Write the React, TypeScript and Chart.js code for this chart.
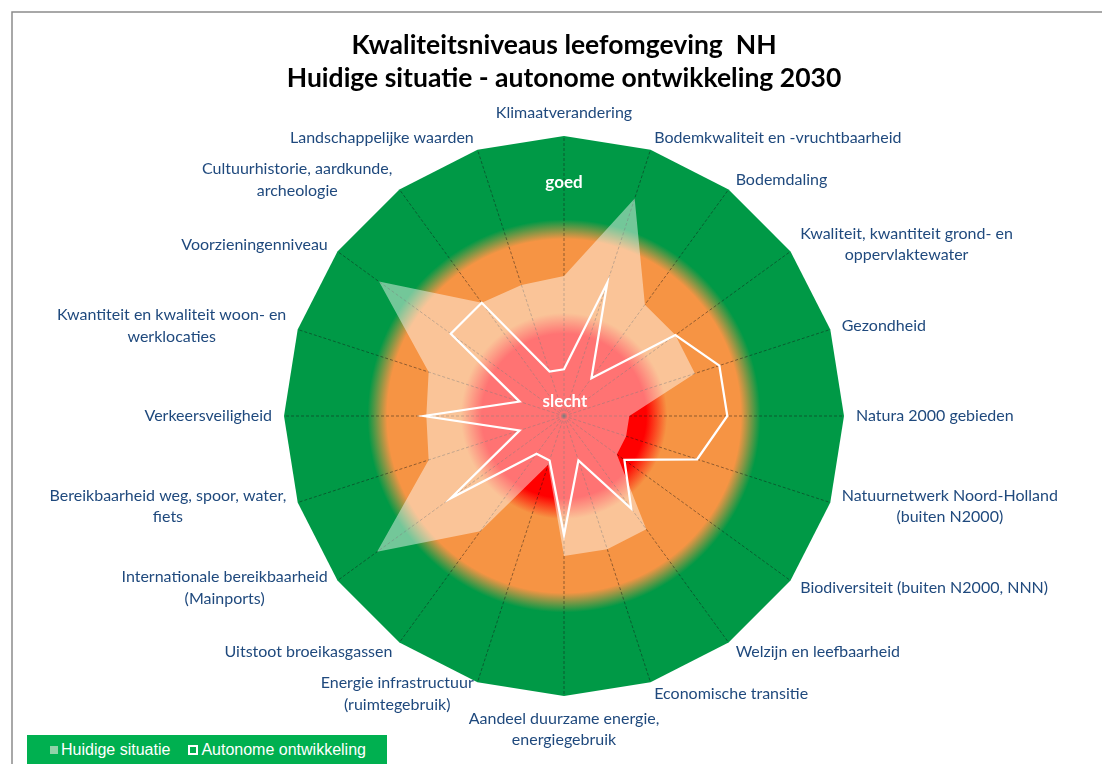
import React, { useEffect, useRef } from "react";
import { Chart, registerables } from "chart.js";

Chart.register(...registerables);

// ---------- data ----------
const categories: string[][] = [
  ["Klimaatverandering"],
  ["Bodemkwaliteit en -vruchtbaarheid"],
  ["Bodemdaling"],
  ["Kwaliteit, kwantiteit grond- en", "oppervlaktewater"],
  ["Gezondheid"],
  ["Natura 2000 gebieden"],
  ["Natuurnetwerk Noord-Holland", "(buiten N2000)"],
  ["Biodiversiteit (buiten N2000, NNN)"],
  ["Welzijn en leefbaarheid"],
  ["Economische transitie"],
  ["Aandeel duurzame energie,", "energiegebruik"],
  ["Energie infrastructuur", "(ruimtegebruik)"],
  ["Uitstoot broeikasgassen"],
  ["Internationale bereikbaarheid", "(Mainports)"],
  ["Bereikbaarheid weg, spoor, water,", "fiets"],
  ["Verkeersveiligheid"],
  ["Kwantiteit en kwaliteit woon- en", "werklocaties"],
  ["Voorzieningenniveau"],
  ["Cultuurhistorie, aardkunde,", "archeologie"],
  ["Landschappelijke waarden"],
];

const huidigeSituatie = [3.0, 4.9, 2.95, 2.95, 2.95, 1.4, 1.4, 1.4, 3.0, 3.0, 3.0, 1.1, 3.05, 4.95, 3.05, 2.95, 3.05, 4.9, 3.0, 2.95];
const autonomeOntwikkeling = [1.0, 3.0, 1.0, 2.95, 3.5, 3.5, 3.0, 1.6, 2.45, 1.0, 2.55, 1.0, 1.0, 3.0, 1.0, 3.0, 1.0, 3.0, 3.0, 1.0];

const seriesNames = ["Huidige situatie", "Autonome ontwikkeling"];
const titleLines = ["Kwaliteitsniveaus leefomgeving  NH", "Huidige situatie - autonome ontwikkeling 2030"];
const scaleMin = 0;
const scaleMax = 6;
// quality bands (scale values): red below first, orange between, green above
const bandEdges = [2, 4];
const bandNames = { low: "slecht", high: "goed" };
const bandNameValues = { low: 0.3, high: 5.0 };

// ---------- styles ----------
const GREEN = "rgb(0,153,70)";
const ORANGE = "rgb(246,148,68)";
const RED = "rgb(255,0,0)";
const LABEL_COLOR = "#1F497D";
const LABEL_FONT = "16px Lato";

const backgroundPlugin = {
  id: "qualityBackground",
  beforeDraw(chart: any) {
    const s = chart.scales.r;
    if (!s) return;
    const ctx = chart.ctx;
    const n = chart.data.labels.length;
    const R = s.drawingArea;
    const cx = s.xCenter;
    const cy = s.yCenter;
    const rRed = s.getDistanceFromCenterForValue(bandEdges[0]) / R;
    const rOrange = s.getDistanceFromCenterForValue(bandEdges[1]) / R;
    const g = ctx.createRadialGradient(cx, cy, 0, cx, cy, R);
    g.addColorStop(0, RED);
    g.addColorStop(rRed - 0.04, RED);
    g.addColorStop(rRed + 0.035, ORANGE);
    g.addColorStop(rOrange - 0.035, ORANGE);
    g.addColorStop(rOrange + 0.035, GREEN);
    g.addColorStop(1, GREEN);
    ctx.save();
    ctx.beginPath();
    for (let i = 0; i < n; i++) {
      const p = s.getPointPosition(i, R);
      if (i === 0) ctx.moveTo(p.x, p.y);
      else ctx.lineTo(p.x, p.y);
    }
    ctx.closePath();
    ctx.fillStyle = g;
    ctx.fill();
    ctx.restore();
  },
};

const labelPlugin = {
  id: "customLabels",
  afterDatasetsDraw(chart: any) {
    const s = chart.scales.r;
    const ctx = chart.ctx;
    ctx.save();
    // band words
    ctx.font = "bold 17px Lato";
    ctx.fillStyle = "#ffffff";
    ctx.textAlign = "center";
    ctx.textBaseline = "middle";
    const pg = s.getPointPositionForValue(0, bandNameValues.high);
    ctx.fillText(bandNames.high, pg.x, pg.y);
    const ps = s.getPointPositionForValue(0, bandNameValues.low);
    ctx.fillText(bandNames.low, ps.x + 1, ps.y);
    ctx.restore();
  },
  afterDraw(chart: any) {
    const s = chart.scales.r;
    const ctx = chart.ctx;
    const labels = chart.data.labels as (string | string[])[];
    const n = labels.length;
    const R = s.drawingArea;
    const lh = 21.5;
    ctx.save();
    ctx.font = LABEL_FONT;
    ctx.fillStyle = LABEL_COLOR;
    ctx.textAlign = "center";
    ctx.textBaseline = "middle";
    labels.forEach((lab, i) => {
      const lines = Array.isArray(lab) ? lab : [lab];
      const p = s.getPointPosition(i, R + 12);
      const deg = (i * 360) / n;
      const sin = Math.sin((deg * Math.PI) / 180);
      const w = Math.max(...lines.map((l) => ctx.measureText(l).width));
      let left: number;
      if (sin > 0.01) left = p.x;
      else if (sin < -0.01) left = p.x - w;
      else left = p.x - w / 2;
      const h = lines.length * lh;
      let top: number;
      if (Math.abs(deg) < 0.01) top = p.y - h;
      else if (Math.abs(deg - 180) < 0.01) top = p.y;
      else top = p.y - h / 2;
      lines.forEach((l, k) => ctx.fillText(l, left + w / 2, top + lh / 2 + k * lh));
    });
    ctx.restore();

    // frame
    ctx.save();
    ctx.strokeStyle = "#8c8c8c";
    ctx.lineWidth = 1.5;
    ctx.beginPath();
    ctx.moveTo(12, chart.height);
    ctx.lineTo(12, 12);
    ctx.lineTo(chart.width, 12);
    ctx.stroke();
    ctx.restore();
  },
};

export default function App() {
  const canvasRef = useRef<HTMLCanvasElement | null>(null);

  useEffect(() => {
    let chart: Chart | null = null;
    let cancelled = false;
    const fontsReady = (document as any).fonts
      ? Promise.all([
          (document as any).fonts.load("16px Lato"),
          (document as any).fonts.load("bold 26px Lato"),
          (document as any).fonts.load("16px 'Liberation Sans'"),
        ]).catch(() => null)
      : Promise.resolve(null);
    fontsReady.then(() => {
      if (cancelled || !canvasRef.current) return;
      chart = new Chart(canvasRef.current, {
        type: "radar",
        data: {
          labels: categories,
          datasets: [
            {
              label: seriesNames[1],
              data: autonomeOntwikkeling,
              borderColor: "#ffffff",
              borderWidth: 2.25,
              backgroundColor: "rgba(0,0,0,0)",
              fill: false,
              pointRadius: 0,
              pointHoverRadius: 0,
              tension: 0,
              borderJoinStyle: "miter",
            },
            {
              label: seriesNames[0],
              data: huidigeSituatie,
              borderWidth: 0,
              borderColor: "rgba(255,255,255,0)",
              backgroundColor: "rgba(255,255,255,0.45)",
              fill: true,
              pointRadius: 0,
              pointHoverRadius: 0,
              tension: 0,
            },
          ],
        },
        options: {
          responsive: false,
          animation: false,
          events: [],
          layout: { padding: { left: 283, right: 257, top: 0, bottom: 67 } },
          plugins: {
            legend: { display: false },
            tooltip: { enabled: false },
            title: {
              display: true,
              text: titleLines,
              color: "#000000",
              font: { family: "Lato", size: 26.5, weight: "bold", lineHeight: 1.25 },
              padding: { top: 29, bottom: 40 },
            },
          },
          scales: {
            r: {
              min: scaleMin,
              max: scaleMax,
              ticks: { display: false, stepSize: 1 },
              grid: { display: false },
              angleLines: {
                display: true,
                color: "rgba(20,20,20,0.6)",
                lineWidth: 0.75,
                borderDash: [3, 2],
              },
              pointLabels: { display: false },
            },
          },
        },
        plugins: [backgroundPlugin, labelPlugin],
      });
    });
    return () => {
      cancelled = true;
      if (chart) chart.destroy();
    };
  }, []);

  return (
    <div>
      <div style={{ position: "fixed", left: 0, top: 0, width: 1102, height: 764 }}>
        <canvas ref={canvasRef} width={1102} height={764} style={{ width: 1102, height: 764, display: "block" }} />
      </div>
      <div
        style={{
          position: "fixed",
          left: 27,
          top: 735,
          width: 360,
          height: 29,
          background: "#00B050",
          color: "#ffffff",
          fontFamily: "'Liberation Sans', Arial, sans-serif",
          fontSize: 16,
          display: "flex",
          alignItems: "center",
          boxSizing: "border-box",
          paddingLeft: 23,
          whiteSpace: "nowrap",
        }}
      >
        <span style={{ display: "inline-block", width: 8, height: 8, background: "#8fd3a8", marginRight: 3 }} />
        <span>{seriesNames[0]}</span>
        <span
          style={{
            display: "inline-block",
            width: 10,
            height: 10,
            border: "2px solid #ffffff",
            boxSizing: "border-box",
            marginLeft: 18,
            marginRight: 3,
          }}
        />
        <span>{seriesNames[1]}</span>
      </div>
    </div>
  );
}
